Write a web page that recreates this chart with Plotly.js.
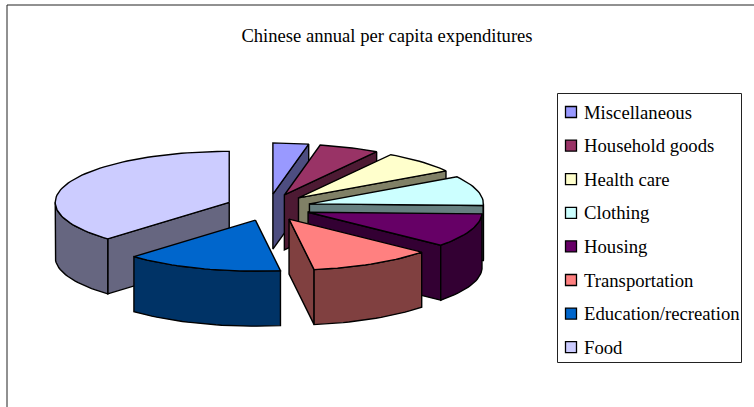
<!DOCTYPE html>
<html>
<head>
<meta charset="utf-8">
<script src="https://cdn.plot.ly/plotly-3.0.1.min.js"></script>
<style>html,body{margin:0;padding:0;background:#fff}</style>
</head>
<body>
<div id="chart" style="width:754px;height:407px"></div>
<script>
// Share of annual spending, per cent, clockwise from twelve o'clock
const categories = ["Miscellaneous","Household goods","Health care","Clothing","Housing","Transportation","Education/recreation","Food"];
const shares = [3.3, 5.6, 7.2, 9.4, 10.7, 11.5, 14.6, 37.7];
const topColors = ["#9999FF","#993366","#FFFFCC","#CCFFFF","#660066","#FF8080","#0066CC","#CCCCFF"];
const wallColors = ["#4D4D80","#4D1A33","#808066","#668080","#330033","#804040","#003366","#666680"];
const chartTitle = "Chinese annual per capita expenditures";

// Projection of the tilted, exploded pie
const pie = {cx: 268.5, cy: 207.4, rx: 174, ry: 51, depth: 55, explodeX: 42.4, explodeY: 13.4};
const total = shares.reduce((a, b) => a + b, 0);
const rad = d => d * Math.PI / 180;

let acc = 0;
const slices = shares.map((v, i) => {
  const start = acc / total * 360;
  acc += v;
  const end = acc / total * 360;
  const mid = rad((start + end) / 2);
  const apex = [pie.cx + pie.explodeX * Math.sin(mid), pie.cy - pie.explodeY * Math.cos(mid)];
  const rim = [];
  const n = Math.max(2, Math.ceil((end - start) / 2));
  for (let k = 0; k <= n; k++) {
    const t = rad(start + (end - start) * k / n);
    rim.push([apex[0] + pie.rx * Math.sin(t), apex[1] - pie.ry * Math.cos(t)]);
  }
  return {i, apex, rim};
});

const outline = {color: "#000", width: 1.4};
const polyTrace = (pts, color) => ({
  type: "scatter", mode: "lines", fill: "toself", fillcolor: color,
  x: pts.map(p => p[0]).concat(pts[0][0]),
  y: pts.map(p => p[1]).concat(pts[0][1]),
  line: outline, showlegend: false, hoverinfo: "skip"
});
const drop = p => [p[0], p[1] + pie.depth];

// Walls facing the viewer are those whose top edge runs leftward on a clockwise walk
function wallTraces(s) {
  const out = [];
  const color = wallColors[s.i];
  const first = s.rim[0], last = s.rim[s.rim.length - 1];
  if (last[0] > s.apex[0]) out.push(polyTrace([last, s.apex, drop(s.apex), drop(last)], color));
  if (first[0] < s.apex[0]) out.push(polyTrace([s.apex, first, drop(first), drop(s.apex)], color));
  let run = [];
  const flush = () => {
    if (run.length > 1) out.push(polyTrace(run.concat(run.slice().reverse().map(drop)), color));
    run = [];
  };
  for (let k = 0; k < s.rim.length - 1; k++) {
    if (s.rim[k + 1][0] < s.rim[k][0]) {
      if (!run.length) run.push(s.rim[k]);
      run.push(s.rim[k + 1]);
    } else flush();
  }
  flush();
  return out;
}

// Painted from the back of the pie to the front
const paintOrder = [0, 1, 2, 3, 4, 5, 7, 6];
const traces = [];
paintOrder.forEach(i => {
  const s = slices[i];
  wallTraces(s).forEach(t => traces.push(t));
  traces.push(polyTrace([s.apex].concat(s.rim), topColors[i]));
});

// Key: swatches on a scatter trace, labels as annotations
const keyTop = 112, keyStep = 33.6, keySwatchX = 571, keyTextX = 583;
const rowY = categories.map((_, i) => keyTop + keyStep * i);
traces.push({
  type: "scatter", mode: "markers",
  x: categories.map(() => keySwatchX), y: rowY, text: categories,
  marker: {symbol: "square", size: 11, color: topColors, line: {color: "#000", width: 1.3}},
  showlegend: false, hoverinfo: "text"
});

const serif = "'Liberation Serif', 'Times New Roman', serif";
const layout = {
  width: 754, height: 407,
  margin: {l: 0, r: 0, t: 0, b: 0},
  paper_bgcolor: "#fff", plot_bgcolor: "#fff",
  showlegend: false,
  title: {
    text: chartTitle, x: 387 / 754, xanchor: "center",
    y: 1 - 35 / 407, yanchor: "middle",
    font: {family: serif, size: 18.6, color: "#000"}
  },
  xaxis: {range: [0, 754], visible: false, fixedrange: true},
  yaxis: {range: [407, 0], visible: false, fixedrange: true},
  shapes: [
    {type: "line", xref: "x", yref: "y", x0: 7, x1: 754, y0: 5, y1: 5, line: {color: "#222", width: 1}, layer: "below"},
    {type: "line", xref: "x", yref: "y", x0: 7, x1: 7, y0: 5, y1: 407, line: {color: "#222", width: 1}, layer: "below"},
    {type: "rect", xref: "x", yref: "y", x0: 557.5, x1: 741.5, y0: 93.5, y1: 362.5, line: {color: "#222", width: 1}, fillcolor: "#fff", layer: "below"}
  ],
  annotations: categories.map((c, i) => ({
    text: c, xref: "x", yref: "y", x: keyTextX, y: rowY[i],
    xanchor: "left", yanchor: "middle", showarrow: false, borderpad: 0,
    font: {family: serif, size: 18.7, color: "#000"}
  }))
};

Plotly.newPlot("chart", traces, layout, {displayModeBar: false, staticPlot: true});
</script>
</body>
</html>
